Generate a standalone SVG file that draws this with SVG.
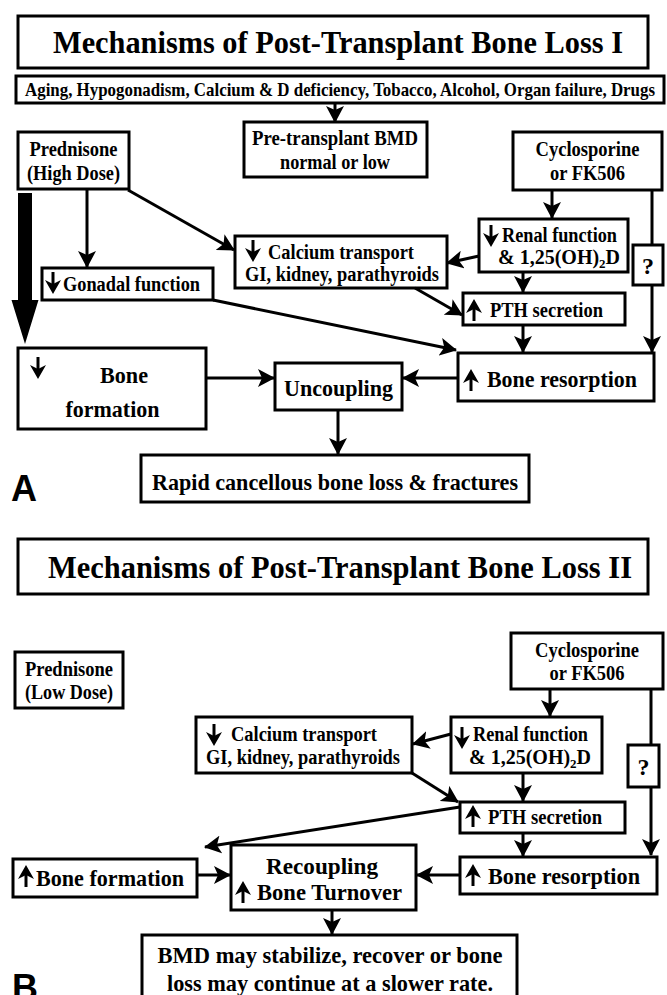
<svg xmlns="http://www.w3.org/2000/svg" xmlns:xlink="http://www.w3.org/1999/xlink" width="667" height="995" viewBox="0 0 667 995">
<style>
.box{fill:#fff;stroke:#000;stroke-width:3}
.t{font-family:"Liberation Serif","Times New Roman",serif;font-weight:bold;fill:#000}
.s{font-size:20px}
.m{font-size:24px}
.h{font-size:32px}
.mid{text-anchor:middle}
.c{stroke:#000;stroke-width:3;fill:none;marker-end:url(#ah)}
.l{stroke:#000;stroke-width:3;fill:none}
.lab{font-family:"Liberation Sans",Arial,sans-serif;font-weight:bold;font-size:36px;fill:#000}
</style>
<defs>
<marker id="ah" markerUnits="userSpaceOnUse" viewBox="0 0 17 18" markerWidth="17" markerHeight="18" refX="16" refY="9" orient="auto">
<path d="M0,0 L17,9 L0,18 L4,9 Z" fill="#000"/>
</marker>
<g id="dn"><path d="M0,-11 V1" stroke="#000" stroke-width="3"/><path d="M-8,-3 L0,11 L8,-3 L0,1 Z" fill="#000"/></g>
</defs>

<!-- Panel A -->
<g id="titleA"><rect class="box" x="18" y="16" width="630" height="52"/><text class="t h mid" x="338" y="53" textLength="570" lengthAdjust="spacingAndGlyphs">Mechanisms of Post-Transplant Bone Loss I</text></g>
<g id="factors"><rect class="box" x="16" y="76" width="648" height="27"/><text class="t mid" style="font-size:19px" x="340" y="96" textLength="630" lengthAdjust="spacingAndGlyphs">Aging, Hypogonadism, Calcium &amp; D deficiency, Tobacco, Alcohol, Organ failure, Drugs</text></g>
<g id="pretx"><rect class="box" x="244" y="122" width="183" height="55"/><text class="t s mid" x="335" y="145" textLength="166" lengthAdjust="spacingAndGlyphs">Pre-transplant BMD</text><text class="t s mid" x="335" y="169" textLength="110" lengthAdjust="spacingAndGlyphs">normal or low</text></g>
<g id="prednA"><rect class="box" x="18" y="132" width="111" height="57"/><text class="t s mid" x="73.5" y="156" textLength="88" lengthAdjust="spacingAndGlyphs">Prednisone</text><text class="t s mid" x="73.5" y="180" textLength="93" lengthAdjust="spacingAndGlyphs">(High Dose)</text></g>
<g id="cycloA"><rect class="box" x="513" y="132" width="149" height="58"/><text class="t s mid" x="587.5" y="156" textLength="104" lengthAdjust="spacingAndGlyphs">Cyclosporine</text><text class="t s mid" x="587.5" y="180" textLength="75" lengthAdjust="spacingAndGlyphs">or FK506</text></g>
<g id="calciumA"><rect class="box" x="235" y="236" width="212" height="52"/><use xlink:href="#dn" transform="translate(253,251)"/><text class="t s" x="268" y="259" textLength="146" lengthAdjust="spacingAndGlyphs">Calcium transport</text><text class="t s" x="245" y="281" textLength="194" lengthAdjust="spacingAndGlyphs">GI, kidney, parathyroids</text></g>
<g id="gonadal"><rect class="box" x="42" y="268" width="171" height="32"/><use xlink:href="#dn" transform="translate(53,283)"/><text class="t s" x="63" y="291" textLength="137" lengthAdjust="spacingAndGlyphs">Gonadal function</text></g>
<g id="renalA"><rect class="box" x="479" y="219" width="149" height="53"/><use xlink:href="#dn" transform="translate(491,236)"/><text class="t s" x="502" y="242" textLength="115" lengthAdjust="spacingAndGlyphs">Renal function</text><text class="t s" x="498" y="264">&amp; 1,25(OH)<tspan font-size="13" dy="4">2</tspan><tspan dy="-4">D</tspan></text></g>
<g id="pthA"><rect class="box" x="463" y="293" width="162" height="32"/><use xlink:href="#dn" transform="translate(474,310) rotate(180)"/><text class="t s" x="490" y="317" textLength="113" lengthAdjust="spacingAndGlyphs">PTH secretion</text></g>
<g id="qA"><rect class="box" x="633" y="245" width="30" height="40"/><text class="t m mid" x="648" y="274">?</text></g>
<g id="bformA"><rect class="box" x="18" y="348" width="188" height="81"/><use xlink:href="#dn" transform="translate(38,368)"/><text class="t m mid" x="124" y="383" textLength="48" lengthAdjust="spacingAndGlyphs">Bone</text><text class="t m mid" x="112.5" y="417" textLength="94" lengthAdjust="spacingAndGlyphs">formation</text></g>
<g id="uncoupling"><rect class="box" x="275" y="363" width="127" height="47"/><text class="t m mid" x="338.5" y="396" textLength="109" lengthAdjust="spacingAndGlyphs">Uncoupling</text></g>
<g id="bresA"><rect class="box" x="458" y="353" width="196" height="48"/><use xlink:href="#dn" transform="translate(471,380) rotate(180)"/><text class="t m" x="487" y="387" textLength="150" lengthAdjust="spacingAndGlyphs">Bone resorption</text></g>
<g id="rapid"><rect class="box" x="141" y="455" width="388" height="47"/><text class="t m mid" x="335" y="490" textLength="366" lengthAdjust="spacingAndGlyphs">Rapid cancellous bone loss &amp; fractures</text></g>
<text class="lab" x="11" y="501">A</text>

<g id="connectorsA">
<path class="c" d="M335,103 V122"/>
<path class="c" d="M87,189 V267"/>
<path class="c" d="M128,190 L234,250"/>
<path class="c" d="M552,190 V218"/>
<path class="c" d="M479,256 L447,263"/>
<path class="c" d="M523,272 V292"/>
<path class="c" d="M415,288 L462,315"/>
<path class="l" d="M652,190 V245"/>
<path class="c" d="M652,285 V352"/>
<path class="c" d="M523,325 V352"/>
<path class="c" d="M213,300 L456,350"/>
<path class="c" d="M206,378 H274"/>
<path class="c" d="M458,378 H403"/>
<path class="c" d="M338,410 V454"/>
<path d="M18,193 H32 V300 H38.5 L25,344 L11.5,300 H18 Z" fill="#000"/>
</g>

<!-- Panel B -->
<g id="titleB"><rect class="box" x="18" y="539" width="630" height="55"/><text class="t h mid" x="340" y="578" textLength="584" lengthAdjust="spacingAndGlyphs">Mechanisms of Post-Transplant Bone Loss II</text></g>
<g id="prednB"><rect class="box" x="15" y="652" width="108" height="56"/><text class="t s mid" x="69" y="676" textLength="88" lengthAdjust="spacingAndGlyphs">Prednisone</text><text class="t s mid" x="69" y="699" textLength="88" lengthAdjust="spacingAndGlyphs">(Low Dose)</text></g>
<g id="cycloB"><rect class="box" x="511" y="633" width="152" height="56"/><text class="t s mid" x="587" y="657" textLength="104" lengthAdjust="spacingAndGlyphs">Cyclosporine</text><text class="t s mid" x="587" y="680" textLength="75" lengthAdjust="spacingAndGlyphs">or FK506</text></g>
<g id="calciumB"><rect class="box" x="196" y="717" width="216" height="56"/><use xlink:href="#dn" transform="translate(214,735)"/><text class="t s" x="231" y="741" textLength="146" lengthAdjust="spacingAndGlyphs">Calcium transport</text><text class="t s" x="206" y="764" textLength="194" lengthAdjust="spacingAndGlyphs">GI, kidney, parathyroids</text></g>
<g id="renalB"><rect class="box" x="451" y="717" width="151" height="56"/><use xlink:href="#dn" transform="translate(462,738)"/><text class="t s" x="473" y="741" textLength="115" lengthAdjust="spacingAndGlyphs">Renal function</text><text class="t s" x="469" y="764">&amp; 1,25(OH)<tspan font-size="13" dy="4">2</tspan><tspan dy="-4">D</tspan></text></g>
<g id="qB"><rect class="box" x="628" y="745" width="31" height="42"/><text class="t m mid" x="643.5" y="775">?</text></g>
<g id="pthB"><rect class="box" x="460" y="802" width="165" height="31"/><use xlink:href="#dn" transform="translate(473,816) rotate(180)"/><text class="t s" x="488" y="824" textLength="114" lengthAdjust="spacingAndGlyphs">PTH secretion</text></g>
<g id="bresB"><rect class="box" x="460" y="857" width="197" height="37"/><use xlink:href="#dn" transform="translate(473,875) rotate(180)"/><text class="t m" x="488" y="884" textLength="152" lengthAdjust="spacingAndGlyphs">Bone resorption</text></g>
<g id="bformB"><rect class="box" x="13" y="859" width="184" height="38"/><use xlink:href="#dn" transform="translate(26,876) rotate(180)"/><text class="t m" x="36" y="886" textLength="148" lengthAdjust="spacingAndGlyphs">Bone formation</text></g>
<g id="recoupling"><rect class="box" x="231" y="845" width="185" height="65"/><text class="t m mid" x="322" y="874" textLength="112" lengthAdjust="spacingAndGlyphs">Recoupling</text><use xlink:href="#dn" transform="translate(243,892) rotate(180)"/><text class="t m" x="257" y="900" textLength="145" lengthAdjust="spacingAndGlyphs">Bone Turnover</text></g>
<g id="bmd"><rect class="box" x="142" y="935" width="375" height="64"/><text class="t m mid" x="330" y="963" textLength="345" lengthAdjust="spacingAndGlyphs">BMD may stabilize, recover or bone</text><text class="t m mid" x="330" y="991" textLength="326" lengthAdjust="spacingAndGlyphs">loss may continue at a slower rate.</text></g>
<text class="lab" x="12" y="1000">B</text>

<g id="connectorsB">
<path class="c" d="M550,689 V716"/>
<path class="c" d="M451,734 L413,744"/>
<path class="c" d="M412,773 L458,802"/>
<path class="c" d="M523,773 V801"/>
<path class="l" d="M651,689 V745"/>
<path class="c" d="M651,787 V855"/>
<path class="c" d="M460,807 L205,847"/>
<path class="c" d="M523,833 V856"/>
<path class="c" d="M459,875 H417"/>
<path class="c" d="M198,875 H230"/>
<path class="c" d="M332,910 V934"/>
</g>
</svg>
